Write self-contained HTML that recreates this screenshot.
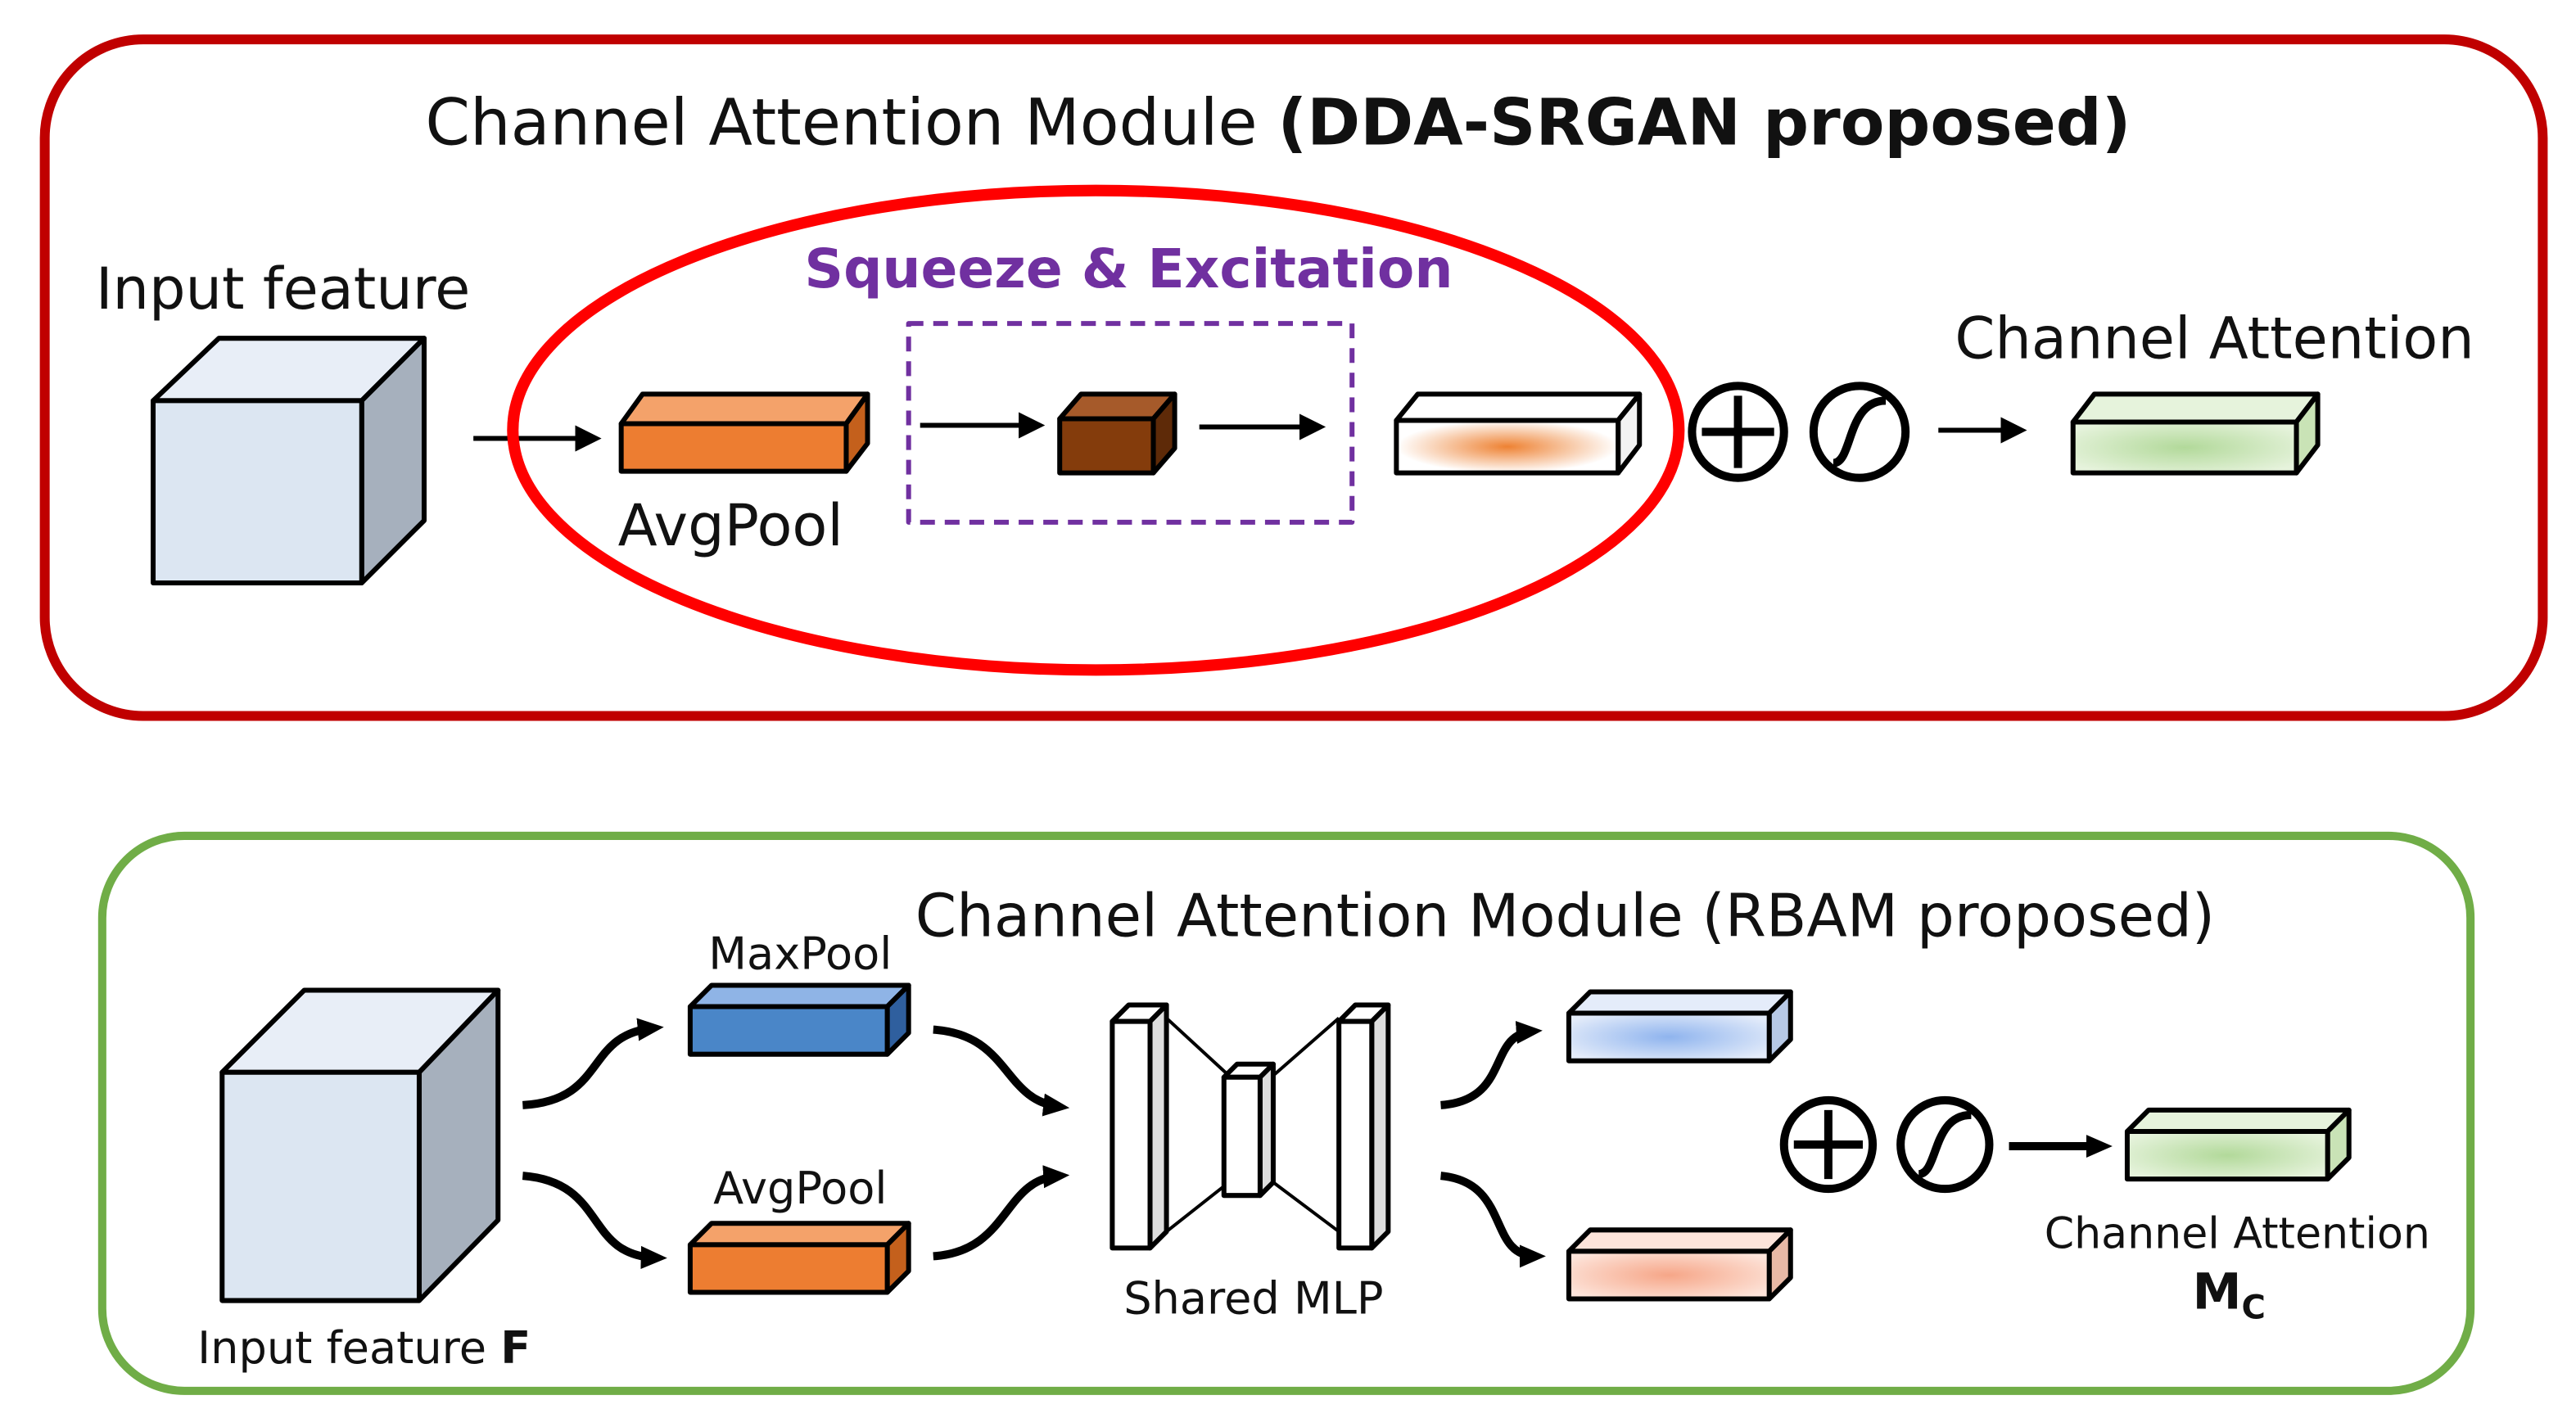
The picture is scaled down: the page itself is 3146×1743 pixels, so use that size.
<!DOCTYPE html>
<html><head><meta charset="utf-8"><style>
html,body{margin:0;padding:0;background:#fff;}
svg{display:block;}
text{font-family:"DejaVu Sans","Liberation Sans",sans-serif;fill:#111;}
</style></head><body>
<svg width="3146" height="1743" viewBox="0 0 1568 869" xmlns="http://www.w3.org/2000/svg">
<defs>
<marker id="ah" markerWidth="16" markerHeight="16" refX="10" refY="8" orient="auto" markerUnits="userSpaceOnUse"><path d="M0,1 L16,8 L0,15 z" fill="#000"/></marker>
<marker id="ah2" markerWidth="16" markerHeight="16" refX="12" refY="8" orient="auto" markerUnits="userSpaceOnUse"><path d="M0,0 L16,8 L0,16 z" fill="#000"/></marker>
<radialGradient id="og" cx="50%" cy="50%" r="50%"><stop offset="0" stop-color="#ee8233"/><stop offset="1" stop-color="#fff"/></radialGradient>
<radialGradient id="gg" cx="50%" cy="50%" r="60%"><stop offset="0" stop-color="#b2d99a"/><stop offset="1" stop-color="#e6f3dc"/></radialGradient>
<radialGradient id="bg" cx="50%" cy="50%" r="60%"><stop offset="0" stop-color="#8fb4ee"/><stop offset="1" stop-color="#e4ecfa"/></radialGradient>
<radialGradient id="sg" cx="50%" cy="50%" r="60%"><stop offset="0" stop-color="#f6a688"/><stop offset="1" stop-color="#fde4da"/></radialGradient>
</defs>
<rect x="27" y="24" width="1521" height="412" rx="60" fill="none" stroke="#c00000" stroke-width="6"/>
<text x="778" y="88" font-size="39" text-anchor="middle">Channel Attention Module <tspan font-weight="bold">(DDA-SRGAN proposed)</tspan></text>
<text x="58" y="188" font-size="35">Input feature</text>
<g stroke="#000" stroke-width="3" stroke-linejoin="round">
<polygon points="93,244 133,206 258,206 220,244" fill="#e8eef7"/>
<polygon points="220,244 258,206 258,317 220,355" fill="#a6b0bd"/>
<rect x="93" y="244" width="127" height="111" fill="#dce6f2"/>
<line x1="288" y1="267" x2="362" y2="267" marker-end="url(#ah2)"/>
<ellipse cx="667" cy="262" rx="355" ry="146" fill="none" stroke="#ff0000" stroke-width="7"/>
<polygon points="378,258 391,240 528,240 515,258" fill="#f4a26a"/>
<polygon points="515,258 528,240 528,270 515,287" fill="#c4601c"/>
<rect x="378" y="258" width="137" height="29" fill="#ed7d31"/>
<rect x="553" y="197" width="270" height="121" fill="none" stroke="#7030a0" stroke-width="3" stroke-dasharray="9,6"/>
<line x1="560" y1="259" x2="632" y2="259" marker-end="url(#ah2)"/>
<polygon points="645,255 658,240 715,240 702,255" fill="#a65a2a"/>
<polygon points="702,255 715,240 715,273 702,288" fill="#5e2a08"/>
<rect x="645" y="255" width="57" height="33" fill="#843c0c"/>
<line x1="730" y1="260" x2="803" y2="260" marker-end="url(#ah2)"/>
<polygon points="850,256 863,240 998,240 985,256" fill="#fff"/>
<polygon points="985,256 998,240 998,271 985,288" fill="#f2f2f2"/>
<rect x="850" y="256" width="135" height="32" fill="url(#og)"/>
<circle cx="1058" cy="263" r="28" fill="#fff" stroke-width="5"/>
<line x1="1036" y1="263" x2="1080" y2="263" stroke-width="5"/>
<line x1="1058" y1="241" x2="1058" y2="285" stroke-width="5"/>
<circle cx="1132" cy="263" r="28" fill="#fff" stroke-width="5"/>
<path d="M1116,282 C1128,282 1124,244 1148,244" fill="none" stroke-width="5"/>
<line x1="1180" y1="262" x2="1230" y2="262" marker-end="url(#ah2)"/>
<polygon points="1262,257 1275,240 1411,240 1398,257" fill="#e6f3dc"/>
<polygon points="1398,257 1411,240 1411,271 1398,288" fill="#c9e3b6"/>
<rect x="1262" y="257" width="136" height="31" fill="url(#gg)"/>
</g>
<text x="687" y="175" font-size="33" font-weight="bold" text-anchor="middle" style="fill:#7030a0">Squeeze &amp; Excitation</text>
<text x="376" y="332" font-size="35">AvgPool</text>
<text x="1190" y="218" font-size="35">Channel Attention</text>

<rect x="62" y="509" width="1442" height="338" rx="50" fill="none" stroke="#70ad47" stroke-width="5"/>
<text x="557" y="570" font-size="36">Channel Attention Module  (RBAM proposed)</text>
<g stroke="#000" stroke-width="3" stroke-linejoin="round">
<polygon points="135,653 185,603 303,603 255,653" fill="#e8eef7"/>
<polygon points="255,653 303,603 303,743 255,792" fill="#a6b0bd"/>
<rect x="135" y="653" width="120" height="139" fill="#dce6f2"/>
<polygon points="420,613 433,600 553,600 540,613" fill="#8fb4e6"/>
<polygon points="540,613 553,600 553,629 540,642" fill="#2f5f9e"/>
<rect x="420" y="613" width="120" height="29" fill="#4a86c8"/>
<polygon points="420,758 433,745 553,745 540,758" fill="#f4a26a"/>
<polygon points="540,758 553,745 553,774 540,787" fill="#c4601c"/>
<rect x="420" y="758" width="120" height="29" fill="#ed7d31"/>
<g fill="none" stroke-width="5">
<path d="M318,673 C370,670 355,630 398,626" marker-end="url(#ah)"/>
<path d="M318,716 C370,720 355,765 400,766" marker-end="url(#ah)"/>
<path d="M568,627 C615,630 610,670 645,674" marker-end="url(#ah)"/>
<path d="M568,765 C615,762 610,718 645,716" marker-end="url(#ah)"/>
<path d="M877,673 C920,670 905,630 933,628" marker-end="url(#ah)"/>
<path d="M877,716 C920,720 905,765 935,765" marker-end="url(#ah)"/>
</g>
<polyline points="710,620 748,655 775,655 815,620" fill="none" stroke-width="2"/>
<polyline points="710,750 748,720 775,720 815,750" fill="none" stroke-width="2"/>
<polygon points="677,622 687,612 710,612 700,622" fill="#fff"/>
<polygon points="700,622 710,612 710,750 700,760" fill="#ddd"/>
<rect x="677" y="622" width="23" height="138" fill="#fff"/>
<polygon points="745,656 753,648 775,648 767,656" fill="#fff"/>
<polygon points="767,656 775,648 775,720 767,728" fill="#ddd"/>
<rect x="745" y="656" width="22" height="72" fill="#fff"/>
<polygon points="815,622 825,612 845,612 835,622" fill="#fff"/>
<polygon points="835,622 845,612 845,750 835,760" fill="#ddd"/>
<rect x="815" y="622" width="20" height="138" fill="#fff"/>
<polygon points="955,617 968,604 1090,604 1077,617" fill="#e4ecfa"/>
<polygon points="1077,617 1090,604 1090,633 1077,646" fill="#b7c9e6"/>
<rect x="955" y="617" width="122" height="29" fill="url(#bg)"/>
<polygon points="955,762 968,749 1090,749 1077,762" fill="#fde4da"/>
<polygon points="1077,762 1090,749 1090,778 1077,791" fill="#e8b9a6"/>
<rect x="955" y="762" width="122" height="29" fill="url(#sg)"/>
<circle cx="1113" cy="697" r="27" fill="#fff" stroke-width="5"/>
<line x1="1092" y1="697" x2="1134" y2="697" stroke-width="5"/>
<line x1="1113" y1="676" x2="1113" y2="718" stroke-width="5"/>
<circle cx="1184" cy="697" r="27" fill="#fff" stroke-width="5"/>
<path d="M1168,715 C1180,715 1176,679 1200,679" fill="none" stroke-width="5"/>
<line x1="1223" y1="698" x2="1280" y2="698" stroke-width="5" marker-end="url(#ah)"/>
<polygon points="1295,689 1308,676 1430,676 1417,689" fill="#e6f3dc"/>
<polygon points="1417,689 1430,676 1430,705 1417,718" fill="#c9e3b6"/>
<rect x="1295" y="689" width="122" height="29" fill="url(#gg)"/>
</g>
<text x="120" y="830" font-size="27">Input feature <tspan font-weight="bold">F</tspan></text>
<text x="487" y="590" font-size="27" text-anchor="middle">MaxPool</text>
<text x="487" y="733" font-size="27" text-anchor="middle">AvgPool</text>
<text x="763" y="800" font-size="27" text-anchor="middle">Shared MLP</text>
<text x="1362" y="760" font-size="26" text-anchor="middle">Channel Attention</text>
<text x="1357" y="797" font-size="30" font-weight="bold" text-anchor="middle">M<tspan font-size="20" dy="6">C</tspan></text>
</svg>
</body></html>
